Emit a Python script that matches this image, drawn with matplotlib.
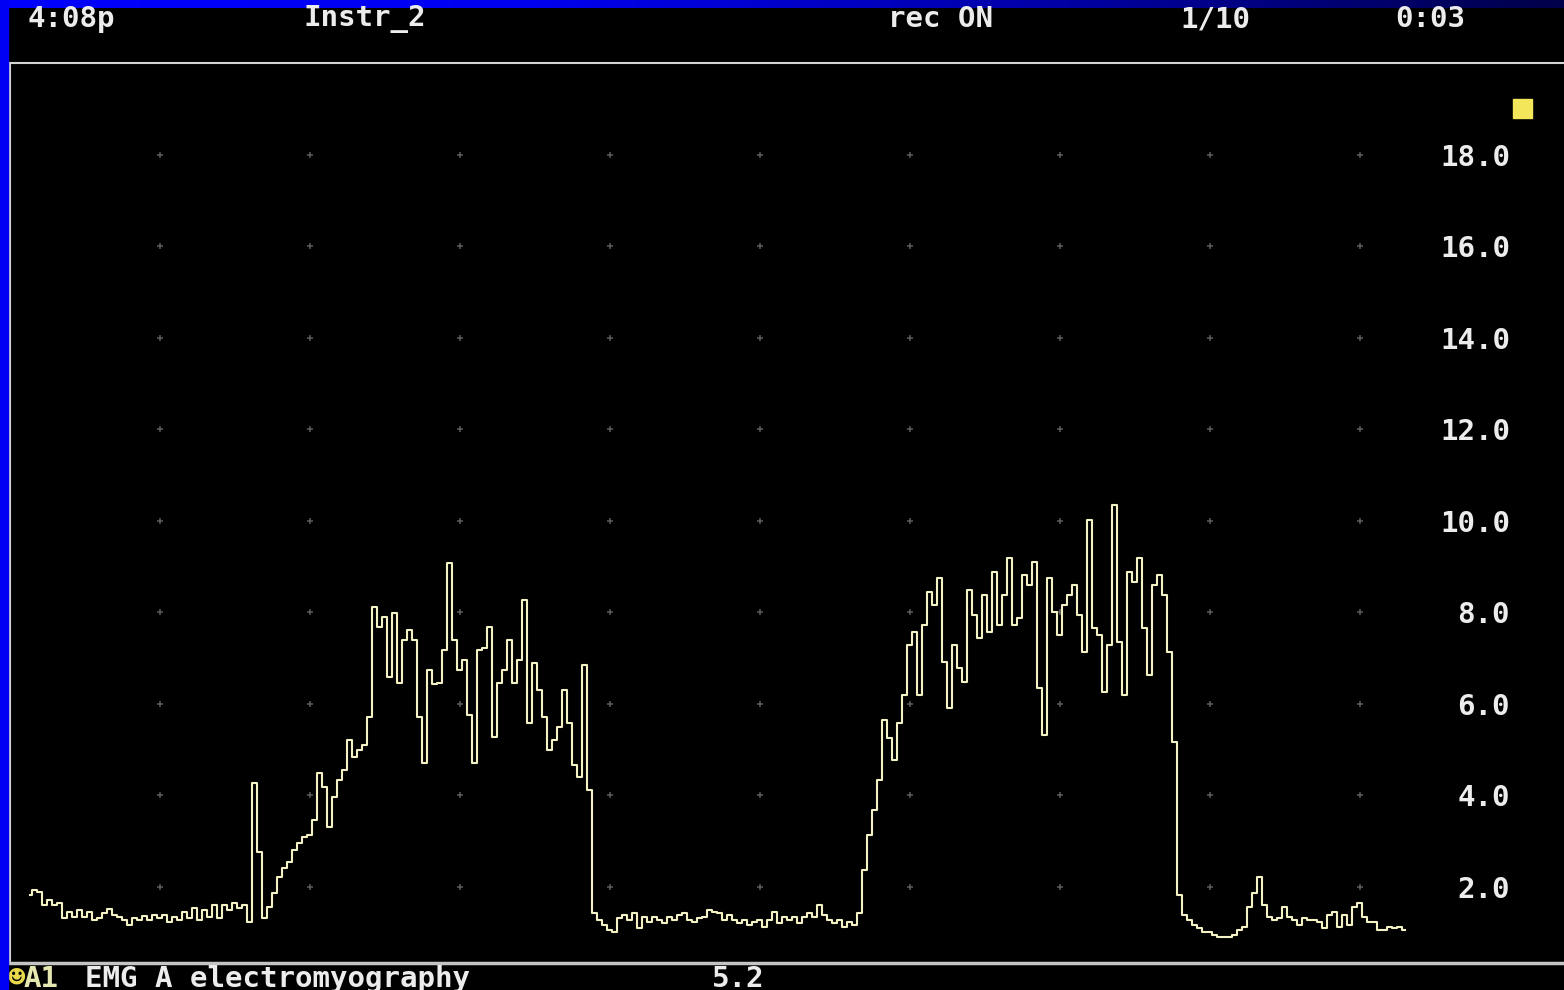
import numpy as np
import matplotlib
matplotlib.use("Agg")
import matplotlib.pyplot as plt
from matplotlib.colors import LinearSegmentedColormap
from matplotlib.patches import Rectangle

# ---- recorded EMG envelope (channel A1), sampled at 30 Hz ----
RATE = 30.0          # samples per second
T_START = 2 / 15     # time of first sample (s)

emg_rest_1 = [
    1.83, 1.93, 1.89, 1.61, 1.72, 1.61, 1.65, 1.32, 1.45, 1.34,
    1.50, 1.34, 1.45, 1.28, 1.32, 1.43, 1.52, 1.39, 1.34, 1.28,
    1.17, 1.32, 1.28, 1.37, 1.28, 1.39, 1.32, 1.39, 1.24, 1.34,
    1.28, 1.45, 1.32, 1.54, 1.28, 1.50, 1.34, 1.61, 1.32, 1.61,
    1.50, 1.65, 1.54, 1.61, 1.24,
]
emg_burst_1 = [
    4.27, 2.77, 1.32, 1.56, 1.87, 2.22, 2.42, 2.55, 2.81, 2.96,
    3.09, 3.14, 3.46, 4.49, 4.19, 3.31, 3.97, 4.34, 4.56, 5.21,
    4.84, 4.99, 5.10, 5.72, 8.12, 7.68, 7.90, 6.59, 7.99, 6.46,
    7.40, 7.62, 7.40, 5.72, 4.72, 6.74, 6.43, 6.46, 7.18, 9.08,
    7.40, 6.74, 6.96, 5.76, 4.72, 7.18, 7.22, 7.68, 5.28, 6.46,
    6.74, 7.40, 6.46, 6.96, 8.27, 5.58, 6.90, 6.31, 5.72, 4.99,
    5.21, 5.50, 6.31, 5.58, 4.67, 4.40, 6.85,
]
emg_rest_2 = [
    4.12, 1.43, 1.28, 1.17, 1.06, 1.02, 1.32, 1.39, 1.28, 1.43,
    1.10, 1.34, 1.24, 1.34, 1.28, 1.21, 1.34, 1.28, 1.39, 1.43,
    1.28, 1.24, 1.32, 1.34, 1.50, 1.45, 1.43, 1.28, 1.39, 1.28,
    1.21, 1.28, 1.17, 1.24, 1.28, 1.13, 1.28, 1.45, 1.21, 1.34,
    1.28, 1.34, 1.21, 1.34, 1.43, 1.34, 1.61, 1.39, 1.28, 1.21,
    1.28, 1.13, 1.24, 1.17, 1.43,
]
emg_burst_2 = [
    2.37, 3.14, 3.68, 4.34, 5.65, 5.26, 4.78, 5.58, 6.20, 7.29,
    7.57, 6.20, 7.73, 8.45, 8.16, 8.75, 6.92, 5.91, 7.29, 6.79,
    6.48, 8.49, 7.95, 7.44, 8.38, 7.57, 8.88, 7.73, 8.38, 9.19,
    7.73, 7.88, 8.82, 8.60, 9.10, 6.35, 5.32, 8.75, 8.01, 7.51,
    8.16, 8.38, 8.60, 7.95, 7.14, 10.02, 7.66, 7.51, 6.26, 7.29,
    10.35, 7.35, 6.20, 8.88, 8.67, 9.19, 7.66, 6.63, 8.60, 8.82,
    8.38, 7.14, 5.17,
]
emg_rest_3 = [
    1.83, 1.39, 1.28, 1.17, 1.10, 1.02, 1.02, 0.95, 0.91, 0.91,
    0.91, 0.95, 1.06, 1.13, 1.56, 1.87, 2.22, 1.61, 1.34, 1.28,
    1.32, 1.56, 1.34, 1.28, 1.17, 1.32, 1.28, 1.28, 1.24, 1.10,
    1.39, 1.45, 1.13, 1.39, 1.17, 1.56, 1.65, 1.34, 1.24, 1.24,
    1.06, 1.06, 1.13, 1.10, 1.13, 1.06,
]

y_ticks = [2.0, 4.0, 6.0, 8.0, 10.0, 12.0, 14.0, 16.0, 18.0]
grid_times = [1, 2, 3, 4, 5, 6, 7, 8, 9]

header_items = [("4:08p", 28), ("Instr_2", 303), ("rec ON", 888),
                ("1/10", 1180), ("0:03", 1395)]
channel_tag = "A1"
channel_name = "EMG A electromyography"
channel_value = "5.2"

# ---- styling ----
W, H = 1564, 990
BG = "#000000"
TRACE = "#f4f1c4"
TEXT = "#ececec"
KEY = "#f4e65a"
MONO = ["DejaVu Sans Mono", "DejaVu Sans"]
FS = 21

emg = np.array(emg_rest_1 + emg_burst_1 + emg_rest_2 + emg_burst_2 + emg_rest_3)
t = T_START + np.arange(len(emg)) / RATE

fig = plt.figure(figsize=(W / 100, H / 100), dpi=100, facecolor=BG)

# window frame: blue title band (gradient) and blue left edge
band = fig.add_axes([0, (H - 8) / H, 1, 8 / H])
band.imshow(np.linspace(0, 1, 512)[None, :], aspect="auto",
            cmap=LinearSegmentedColormap.from_list(
                "band", ["#0000ff", "#0000f0", "#0000a8", "#00004a"]))
band.axis("off")
fig.patches.append(Rectangle((0, 0), 8 / W, 1, transform=fig.transFigure,
                             color="#0000f4", zorder=5))

# main strip-chart axes
ax = fig.add_axes([9.5 / W, 27 / H, 1 - 9.5 / W, 900 / H], facecolor=BG)
ax.set_xlim(0, (W - 10) / 150)
ax.set_ylim(0.339, 20.01)

for side in ("top", "left", "bottom"):
    ax.spines[side].set_color("#d4d4d4")
ax.spines["top"].set_linewidth(1.5)
ax.spines["left"].set_linewidth(1.5)
ax.spines["bottom"].set_linewidth(2.5)
ax.spines["bottom"].set_color("#c4c4c4")
ax.spines["right"].set_visible(False)

# dot grid at each time/amplitude intersection
gx, gy = np.meshgrid(grid_times, y_ticks)
ax.plot(gx.ravel(), gy.ravel(), linestyle="none", marker="+",
        markersize=5, markeredgewidth=1.1, color="#5c5c5c", zorder=1)

# amplitude scale drawn inside the plot on the right
ax.set_xticks([])
ax.yaxis.tick_right()
ax.set_yticks(y_ticks)
ax.set_yticklabels([f"{v:.1f}" for v in y_ticks])
ax.tick_params(axis="y", length=0, pad=-38.9, labelcolor=TEXT, labelsize=FS)
for lbl in ax.get_yticklabels():
    lbl.set_horizontalalignment("right")
    lbl.set_fontfamily(MONO)
    lbl.set_fontweight("bold")

# EMG trace
ax.plot(t, emg, color=TRACE, linewidth=1.5, drawstyle="steps-mid", zorder=3)

# channel colour key
ax.add_patch(Rectangle((0.9672, 0.9389), 0.0122, 0.0211,
                       transform=ax.transAxes, color=KEY, zorder=4))

# header status line
for label, px in header_items:
    fig.text(px / W, 1 - 19 / H, label, color=TEXT, fontsize=FS,
             family=MONO, weight="bold", va="center", ha="left")

# footer channel line
fy = 1 - 979 / H
fig.text(8 / W, fy, "\u263b", color="#e8d84a", fontsize=FS,
         family=MONO, weight="bold", va="center", ha="left")
fig.text(24 / W, fy, channel_tag, color="#e6e6b0", fontsize=FS,
         family=MONO, weight="bold", va="center", ha="left")
fig.text(85 / W, fy, channel_name, color=TEXT, fontsize=FS,
         family=MONO, weight="bold", va="center", ha="left")
fig.text(712 / W, fy, channel_value, color=TEXT, fontsize=FS,
         family=MONO, weight="bold", va="center", ha="left")

fig.savefig("out.png", dpi=100, facecolor=BG)
